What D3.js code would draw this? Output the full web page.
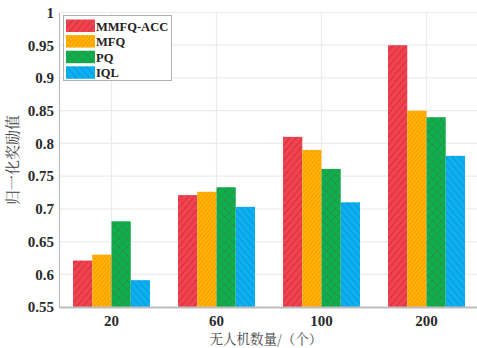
<!DOCTYPE html>
<html>
<head>
<meta charset="utf-8">
<script src="https://cdn.jsdelivr.net/npm/d3@7"></script>
<style>
  body { margin: 0; background: #fff; }
  svg { display: block; }
</style>
</head>
<body>
<div id="chart"></div>
<script>
// data
var categories = ["20", "60", "100", "200"];
var seriesNames = ["MMFQ-ACC", "MFQ", "PQ", "IQL"];
var mmfqAcc = [0.621, 0.721, 0.81, 0.95];
var mfq = [0.63, 0.726, 0.79, 0.85];
var pq = [0.681, 0.733, 0.761, 0.84];
var iql = [0.591, 0.703, 0.71, 0.781];
var yTicks = [0.55, 0.6, 0.65, 0.7, 0.75, 0.8, 0.85, 0.9, 0.95, 1];

var values = [mmfqAcc, mfq, pq, iql];

var width = 477, height = 348;
var plotLeft = 59, plotRight = 479, plotTop = 12.5, plotBottom = 307;

var svg = d3.select("#chart")
    .append("svg")
    .attr("width", width)
    .attr("height", height);

// hatch patterns, one per series
var defs = svg.append("defs");
function hatch(id, base, line, size, angle, sw, cross) {
    var p = defs.append("pattern")
        .attr("id", id)
        .attr("patternUnits", "userSpaceOnUse")
        .attr("width", size)
        .attr("height", size)
        .attr("patternTransform", "rotate(" + angle + ")");
    p.append("rect").attr("width", size).attr("height", size).attr("fill", base);
    p.append("line").attr("x1", 0).attr("y1", 0).attr("x2", 0).attr("y2", size)
        .attr("stroke", line).attr("stroke-width", sw);
    if (cross) {
        p.append("line").attr("x1", 0).attr("y1", 0).attr("x2", size).attr("y2", 0)
            .attr("stroke", line).attr("stroke-width", sw);
    }
}
hatch("p0", "#ef4450", "#c41e2c", 5, 40, 1.2, false);
hatch("p1", "#ffa200", "#ffd21a", 3, 40, 1.2, false);
hatch("p2", "#0db14b", "#3a7f48", 6, 45, 1.1, true);
hatch("p3", "#0cb0f0", "#0a86c8", 5, -40, 1.2, false);
var fills = ["url(#p0)", "url(#p1)", "url(#p2)", "url(#p3)"];

var x = d3.scaleBand()
    .domain(categories)
    .range([plotLeft, plotRight])
    .paddingInner(0.267)
    .paddingOuter(0.1335);

var xs = d3.scaleBand()
    .domain(d3.range(seriesNames.length))
    .range([0, x.bandwidth()]);

var y = d3.scaleLinear()
    .domain([0.55, 1])
    .range([plotBottom, plotTop]);

// grid
svg.append("g")
    .selectAll("line")
    .data(yTicks.slice(1))
    .enter()
    .append("line")
    .attr("x1", plotLeft).attr("x2", width)
    .attr("y1", function (d) { return y(d); })
    .attr("y2", function (d) { return y(d); })
    .attr("stroke", "#ececec")
    .attr("stroke-width", 1.2);

svg.append("g")
    .selectAll("line")
    .data(categories)
    .enter()
    .append("line")
    .attr("x1", function (d) { return x(d) + x.bandwidth() / 2; })
    .attr("x2", function (d) { return x(d) + x.bandwidth() / 2; })
    .attr("y1", plotTop).attr("y2", plotBottom)
    .attr("stroke", "#ececec")
    .attr("stroke-width", 1.2);

// bars
var rows = [];
categories.forEach(function (c, i) {
    seriesNames.forEach(function (s, j) {
        rows.push({cat: c, s: j, v: values[j][i]});
    });
});

svg.append("g")
    .selectAll("rect")
    .data(rows)
    .enter()
    .append("rect")
    .attr("x", function (d) { return x(d.cat) + xs(d.s); })
    .attr("width", xs.bandwidth())
    .attr("y", function (d) { return y(d.v); })
    .attr("height", function (d) { return y(0.55) - y(d.v); })
    .attr("fill", function (d) { return fills[d.s]; });

// axes
var yAxis = svg.append("g")
    .attr("transform", "translate(" + plotLeft + ",0)")
    .call(d3.axisLeft(y).tickValues(yTicks).tickSize(0).tickPadding(5)
        .tickFormat(function (d) { return String(+d.toFixed(2)); }));
yAxis.select(".domain").attr("stroke", "#bdbdbd").attr("stroke-width", 1.2);
yAxis.selectAll("text")
    .attr("fill", "#2a2a2a")
    .style("font-family", "'Liberation Serif', 'Times New Roman', serif")
    .style("font-weight", "bold")
    .style("font-size", "15px");

var xAxis = svg.append("g")
    .attr("transform", "translate(0," + plotBottom + ")")
    .call(d3.axisBottom(x).tickSize(0).tickPadding(8).tickSizeOuter(0));
xAxis.select(".domain").attr("stroke", "#bdbdbd").attr("stroke-width", 2.2);
xAxis.selectAll("text")
    .attr("fill", "#2a2a2a")
    .style("font-family", "'Liberation Serif', 'Times New Roman', serif")
    .style("font-weight", "bold")
    .style("font-size", "15px");

// axis titles
svg.append("text")
    .attr("x", 266)
    .attr("y", 344)
    .attr("text-anchor", "middle")
    .attr("fill", "#444")
    .style("font-family", "'Noto Serif CJK SC', 'Noto Sans CJK SC', serif")
    .style("font-size", "13.5px")
    .text("无人机数量/（个）");

svg.append("text")
    .attr("transform", "translate(18,160) rotate(-90)")
    .attr("text-anchor", "middle")
    .attr("fill", "#444")
    .style("font-family", "'Noto Serif CJK SC', 'Noto Sans CJK SC', serif")
    .style("font-size", "15px")
    .text("归一化奖励值");

// legend
var legend = svg.append("g");
legend.append("rect")
    .attr("x", 63.5).attr("y", 15.5)
    .attr("width", 108).attr("height", 65)
    .attr("fill", "#fff")
    .attr("stroke", "#b0b0b0");

var item = legend.selectAll("g.item")
    .data(seriesNames)
    .enter()
    .append("g")
    .attr("transform", function (d, i) { return "translate(66," + (19.5 + i * 15.6) + ")"; });
item.append("rect")
    .attr("width", 29).attr("height", 12.5)
    .attr("fill", function (d, i) { return fills[i]; });
item.append("text")
    .attr("x", 30)
    .attr("y", 11)
    .attr("fill", "#222")
    .style("font-family", "'Liberation Serif', 'Times New Roman', serif")
    .style("font-weight", "bold")
    .style("font-size", "12.5px")
    .text(function (d) { return d; });
</script>
</body>
</html>
